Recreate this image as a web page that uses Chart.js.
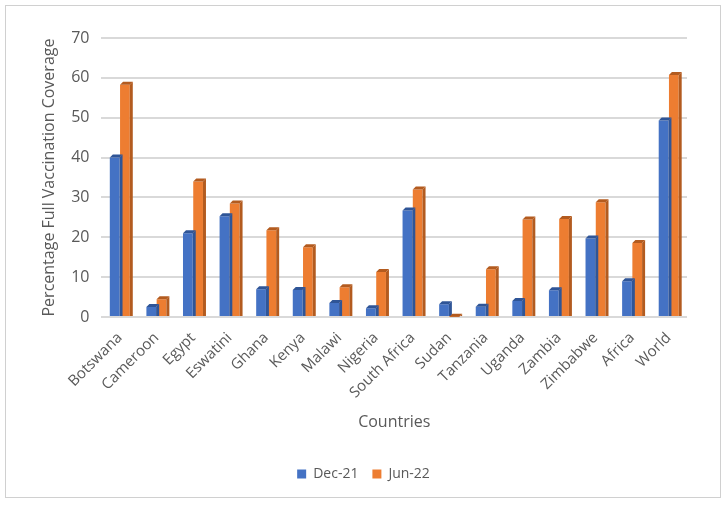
<!DOCTYPE html>
<html>
<head>
<meta charset="utf-8">
<script src="https://cdn.jsdelivr.net/npm/chart.js@4"></script>
<style>
  body { margin: 0; background: #fff; }
  #box { position: absolute; left: 5px; top: 5px; width: 714px; height: 491px; border: 1px solid #d0d0d0; }
</style>
</head>
<body>
<div id="box"><canvas id="chart" width="714" height="491"></canvas></div>
<script>
var countries = ['Botswana', 'Cameroon', 'Egypt', 'Eswatini', 'Ghana', 'Kenya', 'Malawi', 'Nigeria',
  'South Africa', 'Sudan', 'Tanzania', 'Uganda', 'Zambia', 'Zimbabwe', 'Africa', 'World'];
var dec21 = [40, 2.5, 21, 25.3, 7, 6.8, 3.5, 2.2, 26.7, 3.2, 2.6, 4, 6.7, 19.7, 9, 49.3];
var jun22 = [58.3, 4.5, 34, 28.5, 21.8, 17.5, 7.5, 11.3, 32, 0.1, 12, 24.5, 24.6, 28.8, 18.6, 60.7];
var yTicks = [0, 10, 20, 30, 40, 50, 60, 70];

var sideColors = ['#2f5597', '#b35b1f'];

// fake the excel 3D look: side and top face from each bar element
var depth3d = {
  id: 'depth3d',
  afterDatasetsDraw: function(chart) {
    var ctx = chart.ctx;
    var d = 3;
    chart.data.datasets.forEach(function(ds, i) {
      chart.getDatasetMeta(i).data.forEach(function(bar) {
        var r = bar.x + bar.width / 2, l = bar.x - bar.width / 2;
        ctx.save();
        ctx.fillStyle = sideColors[i];
        ctx.beginPath();
        ctx.moveTo(r, bar.y);
        ctx.lineTo(r + d, bar.y - d);
        ctx.lineTo(r + d, bar.base);
        ctx.lineTo(r, bar.base);
        ctx.closePath();
        ctx.fill();
        ctx.beginPath();
        ctx.moveTo(l, bar.y);
        ctx.lineTo(l + d, bar.y - d);
        ctx.lineTo(r + d, bar.y - d);
        ctx.lineTo(r, bar.y);
        ctx.closePath();
        ctx.fill();
        ctx.restore();
      });
    });
  }
};

var ctx = document.getElementById('chart').getContext('2d');
var chart = new Chart(ctx, {
  type: 'bar',
  data: {
    labels: countries,
    datasets: [{
      label: 'Dec-21',
      data: dec21,
      backgroundColor: '#4472c4'
    }, {
      label: 'Jun-22',
      data: jun22,
      backgroundColor: '#ed7d31'
    }]
  },
  options: {
    responsive: false,
    animation: false,
    layout: { padding: { left: 34, right: 33, top: 32, bottom: 6 } },
    datasets: { bar: { categoryPercentage: 0.56, barPercentage: 0.95 } },
    plugins: {
      legend: {
        position: 'bottom',
        labels: {
          boxWidth: 9, boxHeight: 9, padding: 14, color: '#595959',
          font: { family: 'Open Sans', size: 14 }
        }
      },
      tooltip: { enabled: false }
    },
    scales: {
      x: {
        grid: { display: false },
        border: { display: false },
        ticks: {
          color: '#595959', maxRotation: 45, minRotation: 45, padding: 4,
          font: { family: 'Open Sans', size: 15 }
        },
        title: {
          display: true, text: 'Countries', color: '#595959', padding: { top: 7, bottom: 21 },
          font: { family: 'Open Sans', size: 16 }
        }
      },
      y: {
        min: 0, max: 70,
        afterBuildTicks: function(axis) { axis.ticks = yTicks.map(function(v) { return { value: v }; }); },
        grid: { color: '#d9d9d9', lineWidth: 2, drawTicks: false },
        border: { display: false },
        ticks: {
          color: '#595959', padding: 12,
          font: { family: 'Open Sans', size: 16 }
        },
        title: {
          display: true, text: 'Percentage Full Vaccination Coverage', color: '#595959',
          padding: { top: 0, bottom: 0 },
          font: { family: 'Open Sans', size: 16 }
        }
      }
    }
  },
  plugins: [depth3d]
});
</script>
</body>
</html>
